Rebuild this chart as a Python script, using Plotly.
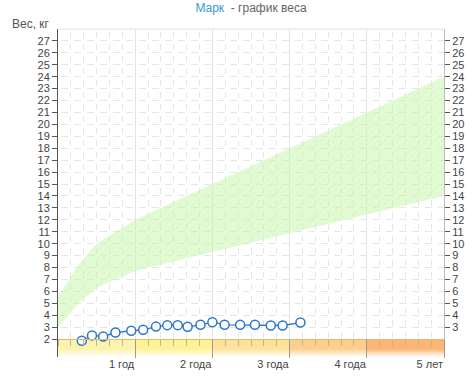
import plotly.graph_objects as go

# ---- data ----
age_years = [0.308, 0.44, 0.585, 0.744, 0.949, 1.103, 1.269, 1.415, 1.551, 1.679,
             1.846, 2.0, 2.158, 2.359, 2.551, 2.756, 2.91, 3.14]
weight_kg = [1.86, 2.31, 2.22, 2.55, 2.70, 2.78, 3.05, 3.17, 3.17, 3.03,
             3.20, 3.42, 3.20, 3.20, 3.20, 3.14, 3.14, 3.39]

norm_age = [0, 0.25, 0.5, 1, 2, 3, 4, 5]
norm_low = [3.0, 4.9, 6.3, 7.7, 9.3, 10.9, 12.45, 14.0]
norm_high = [5.5, 8.1, 10.0, 12.0, 15.0, 18.0, 21.0, 24.0]

year_ticks = [1, 2, 3, 4, 5]
year_labels = ["1 год", "2 года", "3 года", "4 года", "5 лет"]
left_ticks = list(range(2, 28))
right_ticks = list(range(3, 28))

band_starts = [0, 1, 2, 3, 4]
band_colors = ["#fcf4ae", "#fff296", "#fde29c", "#fdcf8c", "#fbb574"]

Y_MIN, Y_MAX = 0.5, 28
X_MIN, X_MAX = 0, 5
BASE = 2

W, H = 476, 382
ML, MR, MT, MB = 58, 28, 29, 23
FONT = "Liberation Sans, Arial, sans-serif"

fig = go.Figure()

# norm band
fig.add_trace(go.Scatter(x=norm_age, y=norm_low, mode="lines",
                         line=dict(width=0, color="rgba(0,0,0,0)"),
                         hoverinfo="skip", showlegend=False))
fig.add_trace(go.Scatter(x=norm_age, y=norm_high, mode="lines",
                         line=dict(width=0, color="rgba(0,0,0,0)"),
                         fill="tonexty", fillcolor="rgba(200,248,170,0.5)",
                         fillpattern=dict(shape="/", bgcolor="rgba(200,248,170,0.5)",
                                          fgcolor="rgba(170,225,140,0.45)",
                                          size=5, solidity=0.15),
                         hoverinfo="skip", showlegend=False))

# bottom age band with gradients
for s, c in zip(band_starts, band_colors):
    fig.add_trace(go.Scatter(x=[s, s + 1, s + 1, s, s],
                             y=[Y_MIN, Y_MIN, BASE, BASE, Y_MIN],
                             mode="lines", line=dict(width=0, color="rgba(0,0,0,0)"),
                             fill="toself",
                             fillgradient=dict(type="vertical",
                                               colorscale=[[0, "#ffffff"], [0.45, c], [1, c]]),
                             hoverinfo="skip", showlegend=False))

# weight series
fig.add_trace(go.Scatter(x=age_years, y=weight_kg, mode="lines+markers",
                         line=dict(color="#2f77c8", width=1.3),
                         marker=dict(size=9, color="white",
                                     line=dict(color="#2f77c8", width=1.5)),
                         cliponaxis=False, showlegend=False))

# invisible trace for right axis
fig.add_trace(go.Scatter(x=age_years, y=weight_kg, yaxis="y2", mode="markers",
                         marker=dict(opacity=0), hoverinfo="skip", showlegend=False))

plot_h = H - MT - MB
plot_w = W - ML - MR

fig.update_layout(
    width=W, height=H,
    margin=dict(l=ML, r=MR, t=MT, b=MB, pad=0),
    paper_bgcolor="white", plot_bgcolor="white",
    font=dict(family=FONT, size=11, color="#444"),
    title=dict(text="<span style='color:#3a9ad9'>Марк</span>\u00a0 - график веса",
               x=0.5, xanchor="center", xref="paper", y=1 - 8 / H, yanchor="middle",
               yref="container", font=dict(family=FONT, size=12, color="#666")),
    xaxis=dict(range=[X_MIN, X_MAX], anchor="free",
               position=(BASE - Y_MIN) / (Y_MAX - Y_MIN),
               tickvals=year_ticks, ticktext=year_labels,
               ticks="outside", ticklen=18, tickcolor="#a09a8a", tickwidth=1,
               ticklabelposition="outside left", ticklabelstandoff=15,
               tickfont=dict(family=FONT, size=11, color="#444"),
               showline=True, linecolor="#d8be70", linewidth=1,
               showgrid=True, gridcolor="#e4e4e4", gridwidth=1,
               minor=dict(dtick=1 / 6, tick0=0, showgrid=True, gridcolor="#e6e6e6",
                          griddash="0px,3px,6px,3px", ticks="outside", ticklen=6,
                          tickcolor="#c0b48c", tickwidth=1),
               zeroline=False, fixedrange=True),
    yaxis=dict(range=[Y_MIN, Y_MAX], tickvals=left_ticks,
               ticks="outside", ticklen=5, tickcolor="#555",
               showline=True, linecolor="#555", linewidth=1,
               showgrid=True, gridcolor="#e6e6e6", griddash="0px,3px,7px,3px",
               tickfont=dict(family=FONT, size=11, color="#444"),
               zeroline=False, fixedrange=True),
    yaxis2=dict(range=[Y_MIN, Y_MAX], overlaying="y", side="right",
                tickvals=right_ticks, ticks="outside", ticklen=5, tickcolor="#555",
                showline=True, linecolor="#bbbbbb", linewidth=1, showgrid=False,
                tickfont=dict(family=FONT, size=11, color="#444"),
                zeroline=False, fixedrange=True),
    shapes=[dict(type="line", xref="paper", yref="paper", x0=0, x1=1, y0=1, y1=1,
                 line=dict(color="#e2e2e2", width=1))],
    annotations=[dict(text="Вес, кг", xref="paper", yref="paper",
                      x=(9 - ML) / plot_w, y=1 + (MT - 24) / plot_h,
                      xanchor="left", yanchor="middle", showarrow=False,
                      font=dict(family=FONT, size=12, color="#555"))],
    showlegend=False,
)

fig.write_html("out.html")
